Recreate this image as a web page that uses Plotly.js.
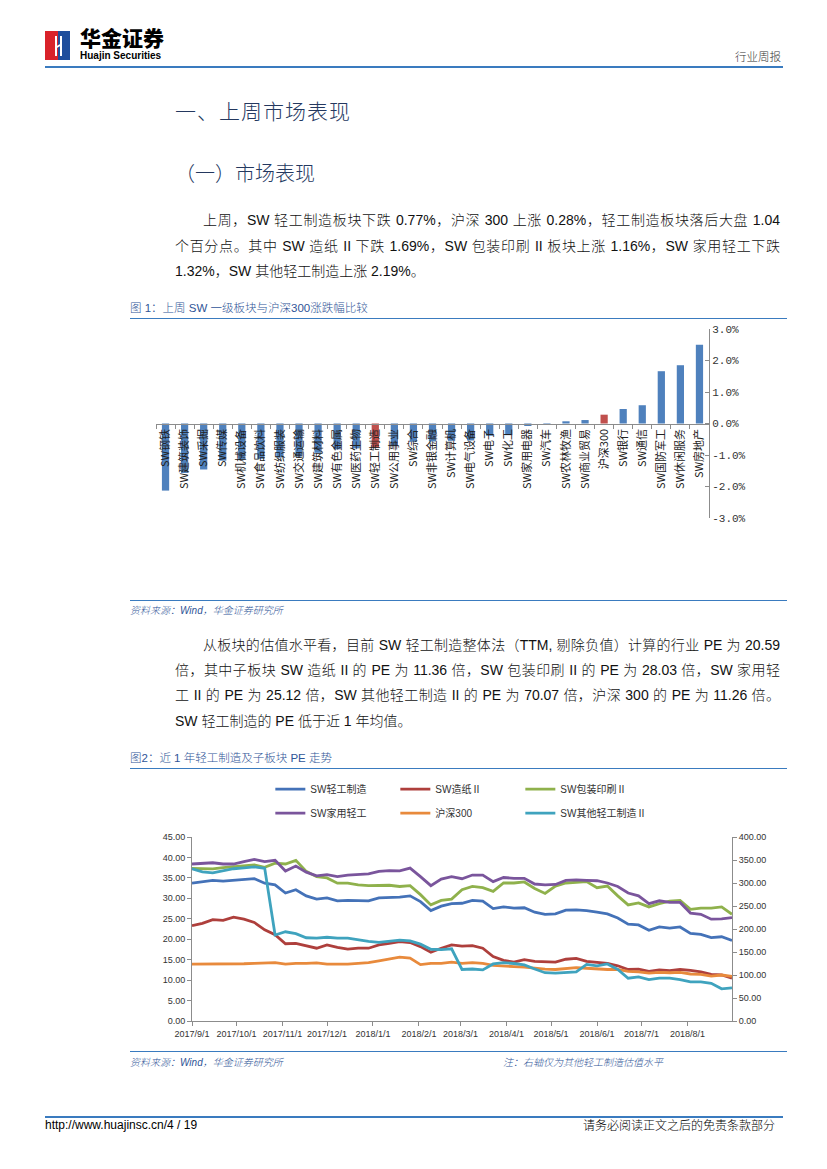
<!DOCTYPE html>
<html>
<head>
<meta charset="utf-8">
<script src="https://cdn.plot.ly/plotly-3.0.1.min.js"></script>
<style>
  html, body { margin:0; padding:0; background:#fff; }
  #page { position:relative; width:827px; height:1169px; overflow:hidden; background:#fff;
          font-family:"Liberation Sans","Noto Sans CJK SC",sans-serif; color:#000; }
  .abs { position:absolute; white-space:nowrap; }
  .hline { position:absolute; height:0; }
  .para { position:absolute; font-size:14px; line-height:16px; height:16px; font-weight:300; color:#111;
          font-family:"Liberation Sans","Noto Sans CJK SC",sans-serif; }
  .just { text-align:justify; text-align-last:justify; }
  .cap { position:absolute; font-size:11.5px; line-height:14px; color:#2F5597; white-space:nowrap;
         font-family:"Liberation Sans","Noto Sans CJK SC",sans-serif; font-weight:300; }
  .src { position:absolute; font-size:10px; line-height:12px; color:#2F5597; font-style:italic; white-space:nowrap;
         font-family:"Liberation Sans","Noto Sans CJK SC",sans-serif; font-weight:300; }
</style>
</head>
<body>
<div id="page">
  <!-- header logo -->
  <div class="abs" style="left:45px;top:31px;width:13px;height:29px;background:#D9222A;"></div>
  <div class="abs" style="left:58px;top:31px;width:12px;height:29px;background:#1F4E9C;"></div>
  <div class="abs" style="left:55px;top:36px;width:2px;height:20px;background:#fff;"></div>
  <div class="abs" style="left:60px;top:36px;width:2px;height:20px;background:#fff;"></div>
  <div class="abs" style="left:55px;top:45px;width:7px;height:2px;background:#fff;transform:rotate(-30deg);"></div>
  <div class="abs" style="left:80px;top:27px;font-size:21px;line-height:21px;height:21px;font-weight:900;font-family:'Noto Sans CJK SC';">华金证券</div>
  <div class="abs" style="left:80px;top:51px;font-size:10px;line-height:10px;height:10px;font-weight:bold;font-family:'Liberation Sans';">Huajin Securities</div>
  <div class="abs" style="left:735px;top:49px;font-size:11.5px;line-height:14px;color:#333;font-family:'Noto Sans CJK SC';font-weight:300;">行业周报</div>
  <div class="hline" style="left:45px;top:66px;width:738px;border-top:2px solid #3A7BBF;"></div>

  <!-- headings -->
  <div class="abs" style="left:175px;top:98px;font-size:21px;line-height:24px;color:#24385F;font-family:'Noto Sans CJK SC';font-weight:300;letter-spacing:1px;">一、上周市场表现</div>
  <div class="abs" style="left:175px;top:161px;font-size:20px;line-height:24px;color:#24385F;font-family:'Noto Sans CJK SC';font-weight:300;">（一）市场表现</div>

  <!-- paragraph 1 -->
  <div class="para just" style="left:203px;top:212px;width:577px;">上周，SW 轻工制造板块下跌 0.77%，沪深 300 上涨 0.28%，轻工制造板块落后大盘 1.04</div>
  <div class="para just" style="left:175px;top:238px;width:605px;">个百分点。其中 SW 造纸 II 下跌 1.69%，SW 包装印刷 II 板块上涨 1.16%，SW 家用轻工下跌</div>
  <div class="para" style="left:175px;top:263px;">1.32%，SW 其他轻工制造上涨 2.19%。</div>

  <!-- figure 1 -->
  <div class="cap" style="left:130px;top:301px;">图 1：上周 SW 一级板块与沪深300涨跌幅比较</div>
  <div class="hline" style="left:130px;top:318px;width:657px;border-top:1px solid #3A7BBF;"></div>
  <div id="bar" class="abs" style="left:130px;top:320px;width:657px;height:280px;"></div>
  <div class="hline" style="left:130px;top:600px;width:657px;border-top:1px solid #3A7BBF;"></div>
  <div class="src" style="left:130px;top:605px;">资料来源：Wind，华金证券研究所</div>

  <!-- paragraph 2 -->
  <div class="para just" style="left:203px;top:637px;width:577px;">从板块的估值水平看，目前 SW 轻工制造整体法（TTM, 剔除负值）计算的行业 PE 为 20.59</div>
  <div class="para just" style="left:175px;top:662px;width:605px;">倍，其中子板块 SW 造纸 II 的 PE 为 11.36 倍，SW 包装印刷 II 的 PE 为 28.03 倍，SW 家用轻</div>
  <div class="para just" style="left:175px;top:687px;width:605px;">工 II 的 PE 为 25.12 倍，SW 其他轻工制造 II 的 PE 为 70.07 倍，沪深 300 的 PE 为 11.26 倍。</div>
  <div class="para" style="left:175px;top:713px;">SW 轻工制造的 PE 低于近 1 年均值。</div>

  <!-- figure 2 -->
  <div class="cap" style="left:130px;top:751px;">图2：近 1 年轻工制造及子板块 PE 走势</div>
  <div class="hline" style="left:130px;top:768px;width:657px;border-top:1px solid #3A7BBF;"></div>
  <div id="line" class="abs" style="left:130px;top:770px;width:657px;height:280px;"></div>
  <div class="hline" style="left:130px;top:1051px;width:657px;border-top:1px solid #3A7BBF;"></div>
  <div class="src" style="left:130px;top:1057px;">资料来源：Wind，华金证券研究所</div>
  <div class="src" style="left:503px;top:1057px;">注：右轴仅为其他轻工制造估值水平</div>

  <!-- footer -->
  <div class="hline" style="left:45px;top:1116px;width:738px;border-top:2px solid #3A7BBF;"></div>
  <div class="abs" style="left:45px;top:1118px;font-size:12px;line-height:14px;font-family:'Liberation Sans';">http://www.huajinsc.cn/4 / 19</div>
  <div class="abs" style="left:583px;top:1118px;font-size:12px;line-height:14px;font-family:'Noto Sans CJK SC';font-weight:300;">请务必阅读正文之后的免责条款部分</div>
</div>

<script>
// ---------- Figure 1 data ----------
var sectors = ['SW钢铁','SW建筑装饰','SW采掘','SW传媒','SW机械设备','SW食品饮料','SW纺织服装','SW交通运输',
  'SW建筑材料','SW有色金属','SW医药生物','SW轻工制造','SW公用事业','SW综合','SW非银金融','SW计算机',
  'SW电气设备','SW电子','SW化工','SW家用电器','SW汽车','SW农林牧渔','SW商业贸易','沪深300','SW银行',
  'SW通信','SW国防军工','SW休闲服务','SW房地产'];
var weeklyChange = [-2.13,-1.57,-1.46,-1.18,-1.14,-1.12,-1.08,-1.05,-0.93,-0.82,-0.79,-0.77,-0.72,-0.58,
  -0.57,-0.55,-0.54,-0.39,-0.37,-0.08,-0.03,0.07,0.11,0.28,0.46,0.58,1.66,1.85,2.50];
var highlighted = ['SW轻工制造','沪深300'];
var pctTickVals = [-3,-2,-1,0,1,2,3];
var pctTickText = ['-3.0%','-2.0%','-1.0%','0.0%','1.0%','2.0%','3.0%'];

// ---------- Figure 2 data ----------
var weeks = ['2017-09-01','2017-09-08','2017-09-15','2017-09-22','2017-09-29','2017-10-06','2017-10-13','2017-10-20',
  '2017-10-27','2017-11-03','2017-11-10','2017-11-17','2017-11-24','2017-12-01','2017-12-08','2017-12-15',
  '2017-12-22','2017-12-29','2018-01-05','2018-01-12','2018-01-19','2018-01-26','2018-02-02','2018-02-09',
  '2018-02-16','2018-02-23','2018-03-02','2018-03-09','2018-03-16','2018-03-23','2018-03-30','2018-04-06',
  '2018-04-13','2018-04-20','2018-04-27','2018-05-04','2018-05-11','2018-05-18','2018-05-25','2018-06-01',
  '2018-06-08','2018-06-15','2018-06-22','2018-06-29','2018-07-06','2018-07-13','2018-07-20','2018-07-27',
  '2018-08-03','2018-08-10','2018-08-17','2018-08-24','2018-08-31'];
var peLight = [33.7,34.1,34.4,34.2,34.4,34.6,34.8,33.7,33.3,31.3,32.1,30.6,29.8,30.1,29.4,29.5,29.5,29.4,30.1,30.2,
  30.3,30.6,29.2,27.0,28.1,28.7,28.8,29.5,29.3,27.5,27.9,27.6,27.7,26.6,26.1,26.2,27.1,27.2,27.0,26.6,26.2,25.2,
  23.7,23.5,22.2,23.0,22.7,23.0,21.4,21.2,20.4,20.6,19.7];
var pePaper = [23.3,23.9,24.8,24.6,25.4,24.9,24.1,22.3,21.1,18.9,19.0,18.4,17.8,18.6,18.0,17.6,17.8,17.8,18.6,19.0,
  19.4,19.2,18.2,16.8,17.8,18.6,18.3,18.45,17.8,15.75,14.85,14.4,15.0,14.6,14.5,14.4,15.1,15.3,14.6,14.3,14.1,
  13.5,12.6,12.7,12.15,12.5,12.3,12.6,12.4,12.0,11.4,11.25,10.5];
var pePack = [37.3,37.3,37.2,37.5,37.7,37.9,38.2,37.6,38.6,38.4,39.3,36.6,35.3,35.0,33.7,33.7,33.3,33.1,33.2,33.2,
  32.9,33.1,30.9,28.4,29.5,29.8,32.1,32.9,32.6,31.7,33.75,33.75,34.0,32.4,31.2,33.0,33.75,34.0,34.1,32.6,33.0,
  30.6,28.4,28.9,27.9,28.7,29.3,29.5,27.3,27.6,27.6,27.9,26.1];
var peHome = [38.4,38.5,38.7,38.4,38.4,39.0,39.5,39.0,39.3,36.7,37.9,36.4,35.5,35.8,35.3,35.7,35.9,36.0,36.6,36.8,
  36.7,37.4,35.3,33.1,34.7,35.3,34.8,35.7,35.7,34.1,35.1,34.9,34.9,33.5,33.3,33.4,34.4,34.5,34.4,34.3,33.75,32.9,
  31.3,30.6,28.7,29.4,29.0,29.0,26.4,26.1,24.9,25.0,25.3];
var peHS300 = [13.9,13.9,13.9,13.9,13.95,14.0,14.1,14.2,14.3,13.9,14.1,14.1,14.2,13.9,13.9,13.9,14.1,14.3,14.7,15.1,
  15.6,15.4,13.8,14.1,14.1,14.4,14.1,14.3,14.1,13.6,13.4,13.3,13.2,12.9,12.7,12.6,12.9,13.05,12.9,12.7,12.6,12.6,
  12.15,12.0,11.7,11.9,11.8,11.9,11.5,11.4,11.0,11.25,10.9];
var peOther = [331,324,322,327,331,333,335,332,187,194,190,181,180,182,180,180,176,173,171,174,176,174,167,156,
  155,157,112,113,111,124,127,125,122,113,105,104,106,107,123,120,124,112,93,96,90,93,93,90,85,85,82,70,72];
var seriesNames = ['SW轻工制造','SW造纸Ⅱ','SW包装印刷Ⅱ','SW家用轻工','沪深300','SW其他轻工制造Ⅱ'];

// ---------- Figure 1 ----------
var barColors = sectors.map(function(s){ return highlighted.indexOf(s) >= 0 ? '#C0504D' : '#4F81BD'; });
var axisGray = '#8C8C8C';
Plotly.newPlot('bar', [{
  type:'bar', x:sectors, y:weeklyChange, width:0.38,
  marker:{color:barColors, line:{width:0}}, hoverinfo:'skip'
}], {
  width:657, height:280,
  margin:{l:26, r:78, t:9, b:82, pad:0},
  paper_bgcolor:'rgba(0,0,0,0)', plot_bgcolor:'rgba(0,0,0,0)',
  showlegend:false,
  xaxis:{type:'category', anchor:'free', position:0.5, showline:true, linecolor:axisGray, linewidth:1,
    ticks:'outside', ticklen:4, tickcolor:axisGray, tickson:'boundaries', tickangle:-90,
    tickfont:{family:'Noto Sans CJK SC', size:11, color:'#222'}, showgrid:false, zeroline:false},
  yaxis:{side:'right', range:[-3,3], tickvals:pctTickVals, ticktext:pctTickText, showline:true,
    linecolor:axisGray, linewidth:1, ticks:'inside', ticklen:4, tickcolor:axisGray, showgrid:false, zeroline:false,
    tickfont:{family:'Liberation Mono', size:11, color:'#333'}}
}, {staticPlot:true});

// ---------- Figure 2 ----------
var lineColors = ['#4472B8','#AE3F3C','#8FB14C','#7A559C','#E88A3C','#3FA3BE'];
var seriesData = [peLight, pePaper, pePack, peHome, peHS300, peOther];
var traces = seriesData.map(function(vals, k){
  return {type:'scatter', mode:'lines', x:weeks, y:vals, name:seriesNames[k],
    line:{color:lineColors[k], width:2.8}, yaxis: k === 5 ? 'y2' : 'y',
    legend: k < 3 ? 'legend' : 'legend2', hoverinfo:'skip'};
});
var tickFont = {family:'Liberation Sans', size:9, color:'#333'};
var legFont = {family:'Liberation Sans, Noto Sans CJK SC', size:10, color:'#333'};
Plotly.newPlot('line', traces, {
  width:657, height:280,
  margin:{l:62, r:55, t:67, b:29, pad:0},
  paper_bgcolor:'rgba(0,0,0,0)', plot_bgcolor:'rgba(0,0,0,0)',
  xaxis:{type:'date', range:['2017-09-01','2018-08-31'], tick0:'2017-09-01', dtick:'M1', tickformat:'%Y/%-m/%-d',
    ticks:'outside', ticklen:4, tickcolor:axisGray, showline:true, linecolor:axisGray, showgrid:false, zeroline:false,
    tickfont:tickFont},
  yaxis:{range:[0,45], dtick:5, tickformat:'.2f', ticks:'outside', ticklen:4, tickcolor:axisGray, showline:true,
    linecolor:axisGray, showgrid:false, zeroline:false, tickfont:tickFont},
  yaxis2:{overlaying:'y', side:'right', range:[0,400], dtick:50, tickformat:'.2f', ticks:'outside', ticklen:4,
    tickcolor:axisGray, showline:true, linecolor:axisGray, showgrid:false, zeroline:false, tickfont:tickFont},
  legend:{orientation:'h', xref:'container', yref:'container', x:0.2136, xanchor:'left', y:0.932, yanchor:'middle',
    entrywidth:80, entrywidthmode:'pixels', font:legFont, bgcolor:'rgba(0,0,0,0)', itemwidth:30, tracegroupgap:0},
  legend2:{orientation:'h', xref:'container', yref:'container', x:0.2136, xanchor:'left', y:0.846, yanchor:'middle',
    entrywidth:80, entrywidthmode:'pixels', font:legFont, bgcolor:'rgba(0,0,0,0)', itemwidth:30, tracegroupgap:0}
}, {staticPlot:true});
</script>
</body>
</html>
